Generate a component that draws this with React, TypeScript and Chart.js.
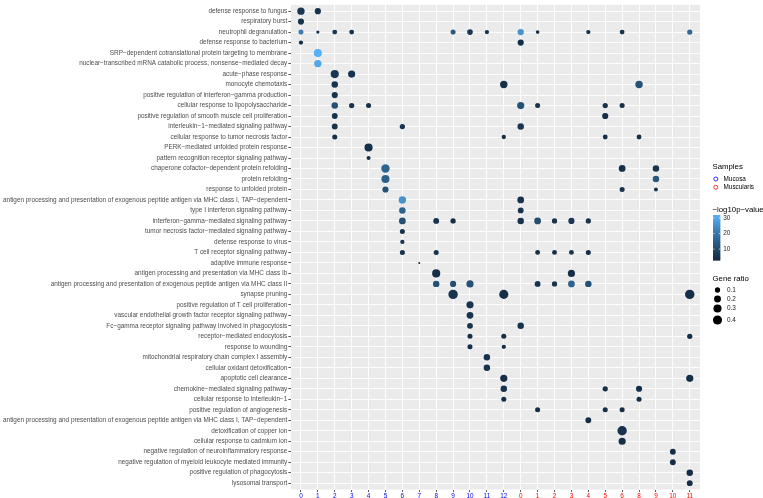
import React, { useEffect, useRef } from "react";
import { Chart, registerables } from "chart.js";

Chart.register(...registerables);

// ---------- DATA ----------
const clusterLabels = ["0", "1", "2", "3", "4", "5", "6", "7", "8", "9", "10", "11", "12", "0", "1", "2", "3", "4", "5", "6", "8", "9", "10", "11"];
const clusterSample = [0, 0, 0, 0, 0, 0, 0, 0, 0, 0, 0, 0, 0, 1, 1, 1, 1, 1, 1, 1, 1, 1, 1, 1];
const sampleNames = ["Mucosa", "Muscularis"];

const terms = [
  "defense response to fungus",
  "respiratory burst",
  "neutrophil degranulation",
  "defense response to bacterium",
  "SRP−dependent cotranslational protein targeting to membrane",
  "nuclear−transcribed mRNA catabolic process, nonsense−mediated decay",
  "acute−phase response",
  "monocyte chemotaxis",
  "positive regulation of interferon−gamma production",
  "cellular response to lipopolysaccharide",
  "positive regulation of smooth muscle cell proliferation",
  "interleukin−1−mediated signaling pathway",
  "cellular response to tumor necrosis factor",
  "PERK−mediated unfolded protein response",
  "pattern recognition receptor signaling pathway",
  "chaperone cofactor−dependent protein refolding",
  "protein refolding",
  "response to unfolded protein",
  "antigen processing and presentation of exogenous peptide antigen via MHC class I, TAP−dependent",
  "type I interferon signaling pathway",
  "interferon−gamma−mediated signaling pathway",
  "tumor necrosis factor−mediated signaling pathway",
  "defense response to virus",
  "T cell receptor signaling pathway",
  "adaptive immune response",
  "antigen processing and presentation via MHC class Ib",
  "antigen processing and presentation of exogenous peptide antigen via MHC class II",
  "synapse pruning",
  "positive regulation of T cell proliferation",
  "vascular endothelial growth factor receptor signaling pathway",
  "Fc−gamma receptor signaling pathway involved in phagocytosis",
  "receptor−mediated endocytosis",
  "response to wounding",
  "mitochondrial respiratory chain complex I assembly",
  "cellular oxidant detoxification",
  "apoptotic cell clearance",
  "chemokine−mediated signaling pathway",
  "cellular response to interleukin−1",
  "positive regulation of angiogenesis",
  "antigen processing and presentation of exogenous peptide antigen via MHC class I, TAP−dependent",
  "detoxification of copper ion",
  "cellular response to cadmium ion",
  "negative regulation of neuroinflammatory response",
  "negative regulation of myeloid leukocyte mediated immunity",
  "positive regulation of phagocytosis",
  "lysosomal transport",
];

// per term: x position index (into clusterLabels)
const dotCluster = [
  [0, 1],
  [0],
  [0, 1, 2, 3, 9, 10, 11, 13, 14, 17, 19, 23],
  [0, 13],
  [1],
  [1],
  [2, 3],
  [2, 12, 20],
  [2],
  [2, 3, 4, 13, 14, 18, 19],
  [2, 18],
  [2, 6, 13],
  [2, 12, 18, 20],
  [4],
  [4],
  [5, 19, 21],
  [5, 21],
  [5, 19, 21],
  [6, 13],
  [6, 13],
  [6, 8, 9, 13, 14, 15, 16, 17],
  [6],
  [6],
  [6, 8, 14, 15, 16, 17],
  [7],
  [8, 16],
  [8, 9, 10, 14, 15, 16, 17],
  [9, 12, 23],
  [10],
  [10],
  [10, 13],
  [10, 12, 23],
  [10, 12],
  [11],
  [11],
  [12, 23],
  [12, 18, 20],
  [12, 20],
  [14, 18, 19],
  [17],
  [19],
  [19],
  [22],
  [22],
  [23],
  [23],
];

const dotRatio = [
  [0.23, 0.15],
  [0.15],
  [0.09, 0.03, 0.08, 0.08, 0.09, 0.12, 0.06, 0.16, 0.04, 0.06, 0.08, 0.1],
  [0.06, 0.15],
  [0.3],
  [0.24],
  [0.3, 0.22],
  [0.17, 0.24, 0.24],
  [0.15],
  [0.17, 0.1, 0.09, 0.22, 0.09, 0.1, 0.09],
  [0.13, 0.15],
  [0.13, 0.1, 0.17],
  [0.09, 0.06, 0.08, 0.08],
  [0.3],
  [0.05],
  [0.33, 0.19, 0.17],
  [0.3, 0.17],
  [0.15, 0.09, 0.05],
  [0.24, 0.19],
  [0.17, 0.13],
  [0.19, 0.13, 0.1, 0.17, 0.19, 0.1, 0.15, 0.1],
  [0.09],
  [0.06],
  [0.09, 0.09, 0.08, 0.08, 0.08, 0.09],
  [0.02],
  [0.3, 0.22],
  [0.17, 0.15, 0.22, 0.13, 0.1, 0.19, 0.17],
  [0.43, 0.4, 0.43],
  [0.22],
  [0.19],
  [0.13, 0.17],
  [0.09, 0.09, 0.1],
  [0.09, 0.06],
  [0.17],
  [0.17],
  [0.22, 0.22],
  [0.17, 0.1, 0.15],
  [0.09, 0.09],
  [0.09, 0.09, 0.09],
  [0.13],
  [0.43],
  [0.22],
  [0.13],
  [0.13],
  [0.17],
  [0.13],
];

const dotLogP = [
  [6, 5],
  [5],
  [22, 4, 6, 5, 14, 6, 5, 26, 4, 5, 5, 17],
  [4, 4],
  [32],
  [30],
  [6, 5],
  [5, 4, 12],
  [5],
  [12, 5, 4, 12, 5, 5, 4],
  [5, 4],
  [5, 5, 6],
  [4, 4, 4, 4],
  [4],
  [4],
  [16, 4, 5],
  [15, 13],
  [12, 5, 5],
  [26, 5],
  [16, 5],
  [12, 5, 4, 5, 11, 5, 6, 5],
  [5],
  [5],
  [5, 5, 4, 4, 5, 4],
  [3],
  [4, 4],
  [12, 11, 12, 5, 5, 16, 12],
  [5, 4, 4],
  [5],
  [5],
  [5, 5],
  [4, 4, 4],
  [4, 4],
  [5],
  [5],
  [4, 4],
  [5, 4, 4],
  [4, 4],
  [4, 4, 4],
  [4],
  [5],
  [4],
  [4],
  [4],
  [4],
  [4],
];

const colourBreaks = [10, 20, 30];
const sizeBreaks = [0.1, 0.2, 0.3, 0.4];

// ---------- STYLE ----------
const FONT = "'Liberation Sans', Arial, Helvetica, sans-serif";
const sampleColours = ["#0000FF", "#FF0000"];
const LOW = "#132B43";
const HIGH = "#56B1F7";

function hexToRgb(h: string) {
  const n = parseInt(h.slice(1), 16);
  return [(n >> 16) & 255, (n >> 8) & 255, n & 255];
}
function toLin(c: number) {
  c /= 255;
  return c <= 0.04045 ? c / 12.92 : Math.pow((c + 0.055) / 1.055, 2.4);
}
function fromLin(c: number) {
  const v = c <= 0.0031308 ? 12.92 * c : 1.055 * Math.pow(c, 1 / 2.4) - 0.055;
  return Math.round(Math.max(0, Math.min(1, v)) * 255);
}
const Xn = 0.95047, Yn = 1, Zn = 1.08883;
function fLab(t: number) {
  return t > 0.008856 ? Math.cbrt(t) : 7.787 * t + 16 / 116;
}
function fInv(t: number) {
  const t3 = t * t * t;
  return t3 > 0.008856 ? t3 : (t - 16 / 116) / 7.787;
}
function rgbToLab(rgb: number[]) {
  const R = toLin(rgb[0]), G = toLin(rgb[1]), B = toLin(rgb[2]);
  const X = 0.4124 * R + 0.3576 * G + 0.1805 * B;
  const Y = 0.2126 * R + 0.7152 * G + 0.0722 * B;
  const Z = 0.0193 * R + 0.1192 * G + 0.9505 * B;
  const fx = fLab(X / Xn), fy = fLab(Y / Yn), fz = fLab(Z / Zn);
  return [116 * fy - 16, 500 * (fx - fy), 200 * (fy - fz)];
}
function labToRgbStr(lab: number[]) {
  const fy = (lab[0] + 16) / 116;
  const fx = fy + lab[1] / 500;
  const fz = fy - lab[2] / 200;
  const X = fInv(fx) * Xn, Y = fInv(fy) * Yn, Z = fInv(fz) * Zn;
  const R = 3.2406 * X - 1.5372 * Y - 0.4986 * Z;
  const G = -0.9689 * X + 1.8758 * Y + 0.0415 * Z;
  const B = 0.0557 * X - 0.204 * Y + 1.057 * Z;
  return `rgb(${fromLin(R)},${fromLin(G)},${fromLin(B)})`;
}
const labLow = rgbToLab(hexToRgb(LOW));
const labHigh = rgbToLab(hexToRgb(HIGH));

const allP = dotLogP.flat();
const allR = dotRatio.flat();
const pMin = Math.min(...allP), pMax = Math.max(...allP);
const rMin = Math.min(...allR), rMax = Math.max(...allR);

function colourFor(p: number) {
  const t = Math.max(0, Math.min(1, (p - pMin) / (pMax - pMin)));
  return labToRgbStr([0, 1, 2].map((i) => labLow[i] + (labHigh[i] - labLow[i]) * t));
}
function radiusFor(v: number) {
  const t = Math.max(0, (v - rMin) / (rMax - rMin));
  return 1 + 3.7 * Math.sqrt(t);
}

const W = 763, H = 498;
const PANEL_LEFT = 290.8, PANEL_RIGHT = 699.9, PANEL_BOTTOM = 489.5;

const panelBg = {
  id: "panelBg",
  beforeDraw(chart: any) {
    const { ctx, chartArea } = chart;
    ctx.save();
    ctx.fillStyle = "#EBEBEB";
    ctx.fillRect(chartArea.left, chartArea.top, chartArea.right - chartArea.left, chartArea.bottom - chartArea.top);
    ctx.restore();
  },
};

const legendPlugin = {
  id: "ggLegend",
  afterDraw(chart: any) {
    const ctx = chart.ctx as CanvasRenderingContext2D;
    ctx.save();
    ctx.textBaseline = "middle";
    ctx.textAlign = "left";
    const x0 = 712.5;
    // Samples
    ctx.fillStyle = "#000";
    ctx.font = `7.8px ${FONT}`;
    ctx.fillText("Samples", x0, 167);
    ctx.font = `6.4px ${FONT}`;
    sampleNames.forEach((name, i) => {
      const y = 179 + i * 8.3;
      ctx.beginPath();
      ctx.arc(x0 + 3.3, y, 2, 0, Math.PI * 2);
      ctx.strokeStyle = sampleColours[i];
      ctx.lineWidth = 0.8;
      ctx.stroke();
      ctx.fillStyle = "#000";
      ctx.fillText(name, x0 + 11, y);
    });
    // colour bar
    ctx.font = `7.8px ${FONT}`;
    ctx.fillStyle = "#000";
    ctx.fillText("−log10p−value", x0, 210);
    const bx = x0 + 0.5, bw = 7.2, bTop = 215, bBot = 260;
    const steps = 90;
    for (let i = 0; i < steps; i++) {
      const y1 = bBot - ((i + 1) / steps) * (bBot - bTop);
      const v = pMin + ((i + 0.5) / steps) * (pMax - pMin);
      ctx.fillStyle = colourFor(v);
      ctx.fillRect(bx, y1, bw, (bBot - bTop) / steps + 0.6);
    }
    ctx.font = `6.4px ${FONT}`;
    colourBreaks.forEach((b) => {
      const y = bBot - ((b - pMin) / (pMax - pMin)) * (bBot - bTop);
      ctx.strokeStyle = "#FFFFFF";
      ctx.lineWidth = 0.6;
      ctx.beginPath();
      ctx.moveTo(bx, y);
      ctx.lineTo(bx + 1.5, y);
      ctx.moveTo(bx + bw - 1.5, y);
      ctx.lineTo(bx + bw, y);
      ctx.stroke();
      ctx.fillStyle = "#1A1A1A";
      ctx.fillText(String(b), bx + bw + 3, y);
    });
    // gene ratio
    ctx.font = `7.8px ${FONT}`;
    ctx.fillStyle = "#000";
    ctx.fillText("Gene ratio", x0, 279);
    const ys = [290, 299, 308.5, 320];
    ctx.font = `6.4px ${FONT}`;
    sizeBreaks.forEach((s, i) => {
      ctx.fillStyle = "#000";
      ctx.beginPath();
      ctx.arc(x0 + 5, ys[i], radiusFor(s), 0, Math.PI * 2);
      ctx.fill();
      ctx.fillStyle = "#1A1A1A";
      ctx.fillText(String(s), x0 + 14.5, ys[i]);
    });
    ctx.restore();
  },
};

export default function App() {
  const ref = useRef<HTMLCanvasElement>(null);
  useEffect(() => {
    const canvas = ref.current;
    if (!canvas) return;
    const points: any[] = [];
    dotCluster.forEach((row, t) => {
      row.forEach((c, j) => {
        points.push({ x: c, y: t, ratio: dotRatio[t][j], logp: dotLogP[t][j] });
      });
    });
    const chart = new Chart(canvas, {
      type: "scatter",
      data: {
        datasets: [
          {
            data: points,
            pointRadius: (ctx: any) => (ctx.raw ? radiusFor(ctx.raw.ratio) : 2),
            pointHoverRadius: (ctx: any) => (ctx.raw ? radiusFor(ctx.raw.ratio) : 2),
            pointBackgroundColor: (ctx: any) => (ctx.raw ? colourFor(ctx.raw.logp) : "#000"),
            pointBorderWidth: 0,
            pointBorderColor: "rgba(0,0,0,0)",
          },
        ],
      },
      options: {
        animation: false,
        responsive: false,
        events: [],
        layout: { padding: { top: 0, right: W - PANEL_RIGHT, bottom: 0, left: 0 } },
        plugins: { legend: { display: false }, tooltip: { enabled: false } },
        scales: {
          x: {
            type: "linear",
            position: "bottom",
            min: -0.6,
            max: clusterLabels.length - 0.4,
            afterBuildTicks: (s: any) => {
              s.ticks = clusterLabels.map((_, i) => ({ value: i }));
            },
            afterFit: (s: any) => {
              s.height = H - PANEL_BOTTOM;
            },
            border: { display: false },
            grid: { color: "#FFFFFF", lineWidth: 0.9, tickColor: "#333333", tickLength: 2.5, tickWidth: 0.8 },
            ticks: {
              autoSkip: false,
              maxRotation: 0,
              padding: 0,
              font: { family: FONT, size: 6.4 },
              color: (ctx: any) => sampleColours[clusterSample[ctx.tick ? ctx.tick.value : ctx.index]],
              callback: (v: any) => clusterLabels[v],
            },
          },
          y: {
            type: "linear",
            reverse: true,
            min: -0.6,
            max: terms.length - 0.4,
            afterBuildTicks: (s: any) => {
              s.ticks = terms.map((_, i) => ({ value: i }));
            },
            afterFit: (s: any) => {
              s.width = PANEL_LEFT;
            },
            border: { display: false },
            grid: { color: "#FFFFFF", lineWidth: 0.9, tickColor: "#333333", tickLength: 2.5, tickWidth: 0.8 },
            ticks: {
              autoSkip: false,
              padding: 1,
              font: { family: FONT, size: 6.4 },
              color: "#4D4D4D",
              callback: (v: any) => terms[v],
            },
          },
        },
      },
      plugins: [panelBg, legendPlugin],
    } as any);
    return () => chart.destroy();
  }, []);
  return (
    <div style={{ position: "fixed", left: 0, top: 0, width: W, height: H, background: "#FFFFFF" }}>
      <canvas ref={ref} width={W} height={H} style={{ width: W, height: H, display: "block" }} />
    </div>
  );
}
